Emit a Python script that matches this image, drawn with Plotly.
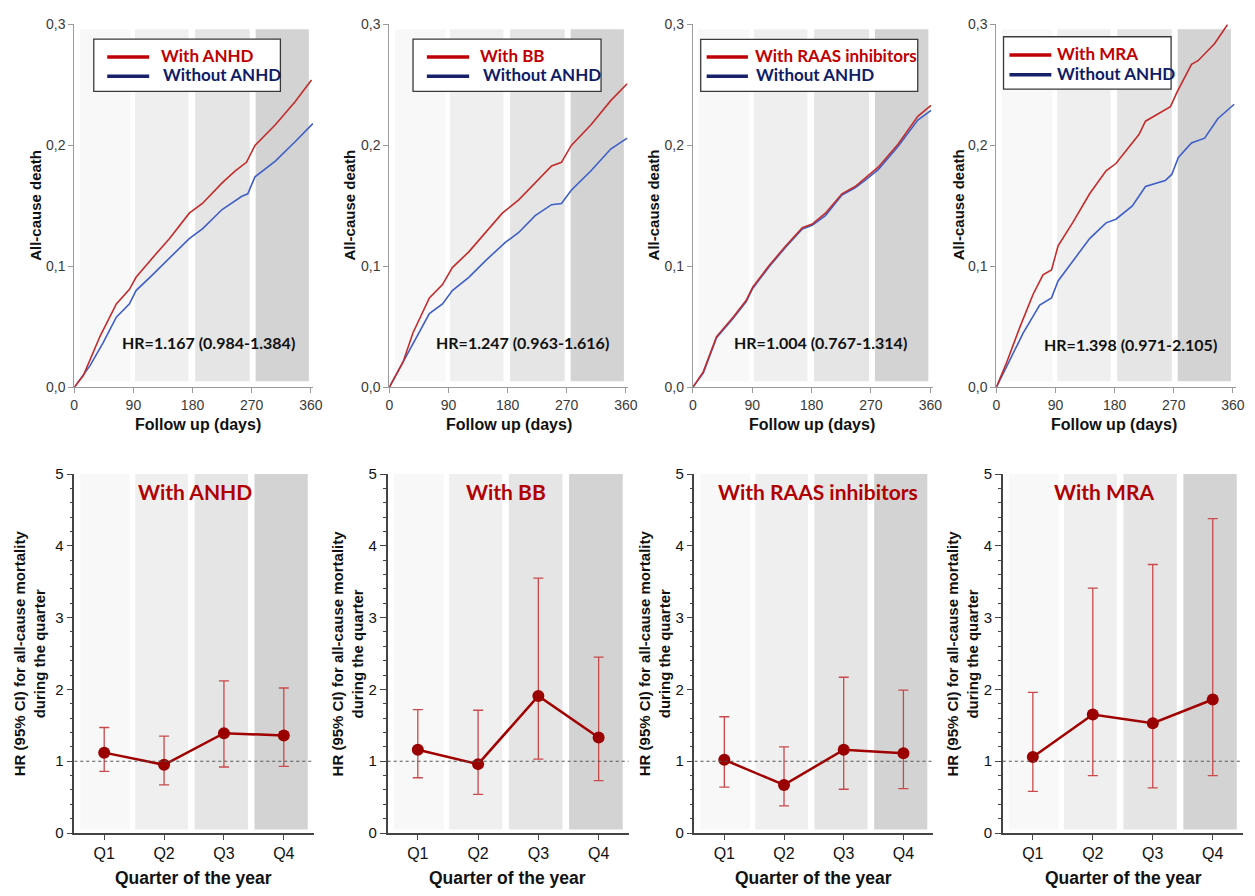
import plotly.graph_objects as go

W, H = 1255, 896

# ---------------- data ----------------
with_labels = ["With ANHD", "With BB", "With RAAS inhibitors", "With MRA"]
without_label = "Without ANHD"
hr_texts = ["HR=1.167 (0.984-1.384)", "HR=1.247 (0.963-1.616)",
            "HR=1.004 (0.767-1.314)", "HR=1.398 (0.971-2.105)"]

# Cumulative all-cause death (top row)
anhd_days_with = [0, 14, 39, 64, 84, 94, 119, 145, 175, 195, 225, 245, 262, 275, 306, 336, 361]
anhd_with = [0, 0.010, 0.042, 0.069, 0.081, 0.091, 0.107, 0.123, 0.144, 0.152, 0.169, 0.179, 0.186, 0.200, 0.217, 0.236, 0.254]
anhd_days_without = [0, 24, 44, 64, 84, 94, 119, 145, 175, 195, 225, 255, 264, 275, 306, 336, 363]
anhd_without = [0, 0.018, 0.037, 0.058, 0.069, 0.080, 0.093, 0.107, 0.123, 0.131, 0.147, 0.158, 0.160, 0.174, 0.187, 0.203, 0.218]

bb_days_with = [0, 21, 36, 61, 81, 96, 121, 147, 172, 197, 222, 247, 262, 277, 307, 337, 362]
bb_with = [0, 0.021, 0.045, 0.074, 0.085, 0.099, 0.112, 0.128, 0.144, 0.155, 0.169, 0.183, 0.186, 0.200, 0.217, 0.237, 0.251]
bb_days_without = [0, 26, 46, 61, 81, 96, 121, 147, 177, 197, 222, 247, 262, 277, 307, 337, 362]
bb_without = [0, 0.026, 0.045, 0.061, 0.069, 0.080, 0.091, 0.105, 0.120, 0.128, 0.142, 0.151, 0.152, 0.163, 0.179, 0.197, 0.206]

raas_days = [0, 16, 36, 61, 81, 91, 116, 141, 166, 181, 201, 226, 246, 261, 281, 311, 341, 361]
raas_with = [0, 0.013, 0.042, 0.058, 0.072, 0.083, 0.101, 0.117, 0.132, 0.135, 0.144, 0.160, 0.166, 0.173, 0.182, 0.201, 0.224, 0.233]
raas_without = [0, 0.012, 0.041, 0.057, 0.071, 0.082, 0.100, 0.116, 0.131, 0.134, 0.142, 0.159, 0.165, 0.171, 0.180, 0.199, 0.221, 0.229]

mra_days_with = [0, 16, 36, 56, 71, 84, 94, 116, 142, 167, 182, 197, 217, 227, 257, 265, 275, 287, 297, 307, 332, 347, 352]
mra_with = [0, 0.021, 0.050, 0.077, 0.093, 0.097, 0.117, 0.136, 0.160, 0.179, 0.185, 0.195, 0.209, 0.220, 0.229, 0.232, 0.244, 0.257, 0.267, 0.270, 0.284, 0.296, 0.300]
mra_days_without = [0, 21, 41, 66, 84, 94, 116, 142, 167, 182, 207, 227, 257, 267, 277, 297, 317, 337, 362]
mra_without = [0, 0.023, 0.045, 0.068, 0.074, 0.088, 0.104, 0.123, 0.136, 0.139, 0.150, 0.166, 0.171, 0.176, 0.190, 0.202, 0.206, 0.222, 0.234]

# Quarterly HR (bottom row)
quarters = ["Q1", "Q2", "Q3", "Q4"]
hr_anhd = [1.12, 0.95, 1.39, 1.36]
lo_anhd = [0.86, 0.67, 0.92, 0.93]
hi_anhd = [1.47, 1.35, 2.12, 2.02]

hr_bb = [1.16, 0.96, 1.91, 1.33]
lo_bb = [0.77, 0.54, 1.03, 0.73]
hi_bb = [1.72, 1.71, 3.55, 2.45]

hr_raas = [1.02, 0.67, 1.16, 1.11]
lo_raas = [0.64, 0.38, 0.61, 0.62]
hi_raas = [1.62, 1.20, 2.17, 1.99]

hr_mra = [1.06, 1.65, 1.53, 1.86]
lo_mra = [0.58, 0.80, 0.63, 0.80]
hi_mra = [1.96, 3.41, 3.74, 4.38]

# Quarter shading (days for top row, quarter units for bottom row)
band_days = [(8.6, 85.7), (92.6, 173.8), (183.9, 267), (276, 357)]
band_q = [(0.6, 1.43), (1.52, 2.4), (2.51, 3.40), (3.51, 4.40)]
band_colors = ["#f8f8f8", "#efefef", "#e5e5e5", "#d3d3d3"]

top_series = [
    (anhd_days_with, anhd_with, anhd_days_without, anhd_without),
    (bb_days_with, bb_with, bb_days_without, bb_without),
    (raas_days, raas_with, raas_days, raas_without),
    (mra_days_with, mra_with, mra_days_without, mra_without),
]
bottom_series = [
    (hr_anhd, lo_anhd, hi_anhd),
    (hr_bb, lo_bb, hi_bb),
    (hr_raas, lo_raas, hi_raas),
    (hr_mra, lo_mra, hi_mra),
]

# ---------------- layout geometry (pixels) ----------------
top_dom = [(71, 312.7), (389.3, 631), (696, 938.7), (1002.7, 1244.4)]
top_ypx = (15.7, 385.7)
bot_dom = [(71, 313), (387.7, 631.3), (697.7, 939), (1009.3, 1251.7)]
bot_ypx = (474, 840)

legend_box = [(90.7, 30.7, 279.3, 84), (413.3, 30.7, 603.3, 84),
              (704, 31, 923.3, 84), (1010, 28.3, 1179.3, 81.7)]
legend_line = [(104.3, 146.7), (427.3, 470), (710, 751.7), (1016, 1058.3)]
legend_text_x = [(156.7, 159), (479.3, 482.3), (756.7, 758.3), (1061.7, 1062)]
legend_y = [(47.5, 67), (47.5, 67), (47.5, 67), (45.5, 65.5)]
hr_pos = [(206.7, 340), (523.8, 340), (825, 340), (1137.8, 341.5)]
top_ytitle_x = [32, 349, 656, 964]
bot_ytitle_x = [26, 347.5, 657.5, 969]
bot_title_x = [193, 507.5, 822.5, 1111.7]
top_xtitle_x = [196, 510, 816, 1122]
bot_xtitle_x = [191.7, 508.3, 817.5, 1130.8]


def px(p):
    return p / W


def py(p):
    return 1 - p / H


RED_CURVE = "#c42b2b"
BLUE_CURVE = "#3f5fc8"
LEG_RED = "#c00000"
LEG_NAVY = "#17206a"
TXT_RED = "#c00000"
TXT_NAVY = "#0f1c66"
DARK_RED = "#a00000"
ERR_RED = "#c9494b"
TICK_FONT = dict(family="Liberation Sans, Arial, sans-serif", size=14, color="#3a3a3a")
CAL = "Lato, Open Sans, sans-serif"
ARIALB = "Liberation Sans, Arial, sans-serif"

fig = go.Figure()
shapes = []
annotations = []

for i in range(4):
    # ---------- top row ----------
    k = i + 1
    xa = "x" if k == 1 else f"x{k}"
    ya = "y" if k == 1 else f"y{k}"
    dw, vw, dwo, vwo = top_series[i]
    for (a, b), c in zip(band_days, band_colors):
        shapes.append(dict(type="rect", xref=xa, yref=ya, x0=a, x1=b, y0=0.005, y1=0.296,
                           fillcolor=c, line=dict(width=0), layer="below"))
    fig.add_trace(go.Scatter(x=dwo, y=vwo, mode="lines", xaxis=xa, yaxis=ya,
                             line=dict(color=BLUE_CURVE, width=1.6), showlegend=False))
    fig.add_trace(go.Scatter(x=dw, y=vw, mode="lines", xaxis=xa, yaxis=ya,
                             line=dict(color=RED_CURVE, width=1.6), showlegend=False))
    axkey = "xaxis" if k == 1 else f"xaxis{k}"
    aykey = "yaxis" if k == 1 else f"yaxis{k}"
    fig.layout[axkey] = dict(domain=[px(top_dom[i][0]), px(top_dom[i][1])], range=[0, 364],
                             anchor=ya, showline=True, linecolor="#9a9a9a", linewidth=1,
                             ticks="outside", tickcolor="#9a9a9a", ticklen=5,
                             tickvals=[0, 90, 180, 270, 360], tickfont=TICK_FONT,
                             showgrid=False, zeroline=False, fixedrange=True)
    fig.layout[aykey] = dict(domain=[py(top_ypx[1]), py(top_ypx[0])], range=[0, 0.3],
                             anchor=xa, showline=True, linecolor="#9a9a9a", linewidth=1,
                             ticks="outside", tickcolor="#9a9a9a", ticklen=5,
                             tickvals=[0, 0.1, 0.2, 0.3], ticktext=["0,0", "0,1", "0,2", "0,3"],
                             tickfont=TICK_FONT, showgrid=False, zeroline=False, fixedrange=True)

    # legend box
    x0, y0, x1, y1 = legend_box[i]
    shapes.append(dict(type="rect", xref="paper", yref="paper", x0=px(x0), x1=px(x1),
                       y0=py(y1), y1=py(y0), fillcolor="white",
                       line=dict(color="#3a3a3a", width=1.3), layer="above"))
    lx0, lx1 = legend_line[i]
    ly_r, ly_b = legend_y[i]
    shapes.append(dict(type="line", xref="paper", yref="paper", x0=px(lx0), x1=px(lx1),
                       y0=py(ly_r + 1.5), y1=py(ly_r + 1.5), line=dict(color=LEG_RED, width=3.5), layer="above"))
    shapes.append(dict(type="line", xref="paper", yref="paper", x0=px(lx0), x1=px(lx1),
                       y0=py(ly_b + 1.5), y1=py(ly_b + 1.5), line=dict(color=LEG_NAVY, width=3.5), layer="above"))
    annotations.append(dict(text=f"<b>{with_labels[i]}</b>", xref="paper", yref="paper",
                            x=px(legend_text_x[i][0]), y=py(ly_r), xanchor="left", yanchor="middle",
                            showarrow=False, font=dict(family=CAL, size=17, color=TXT_RED)))
    annotations.append(dict(text=f"<b>{without_label}</b>", xref="paper", yref="paper",
                            x=px(legend_text_x[i][1]), y=py(ly_b), xanchor="left", yanchor="middle",
                            showarrow=False, font=dict(family=CAL, size=17, color=TXT_NAVY)))
    # HR text
    annotations.append(dict(text=f"<b>{hr_texts[i]}</b>", xref="paper", yref="paper",
                            x=px(hr_pos[i][0]), y=py(hr_pos[i][1]), xanchor="center", yanchor="middle",
                            showarrow=False, font=dict(family=CAL, size=16, color="#111111")))
    # axis titles top
    annotations.append(dict(text="<b>All-cause death</b>", xref="paper", yref="paper",
                            x=px(top_ytitle_x[i]), y=py(200), textangle=-90, showarrow=False,
                            xanchor="center", yanchor="middle",
                            font=dict(family=ARIALB, size=15, color="#111111")))
    annotations.append(dict(text="<b>Follow up (days)</b>", xref="paper", yref="paper",
                            x=px(top_xtitle_x[i]), y=py(424), showarrow=False,
                            xanchor="center", yanchor="middle",
                            font=dict(family=ARIALB, size=16, color="#111111")))

    # ---------- bottom row ----------
    k = i + 5
    xa = f"x{k}"
    ya = f"y{k}"
    hr, lo, hi = bottom_series[i]
    for (a, b), c in zip(band_q, band_colors):
        shapes.append(dict(type="rect", xref=xa, yref=ya, x0=a, x1=b, y0=0.05, y1=5.0,
                           fillcolor=c, line=dict(width=0), layer="below"))
    shapes.append(dict(type="line", xref=xa, yref=ya, x0=0.5, x1=4.5, y0=1, y1=1,
                       line=dict(color="#555555", width=1.2, dash="dot"), layer="above"))
    xs = [1, 2, 3, 4]
    fig.add_trace(go.Scatter(
        x=xs, y=hr, mode="lines+markers", xaxis=xa, yaxis=ya, showlegend=False,
        line=dict(color=DARK_RED, width=2.5),
        marker=dict(color="#9a0000", size=12),
        error_y=dict(type="data", array=[h - m for h, m in zip(hi, hr)],
                     arrayminus=[m - l for m, l in zip(hr, lo)],
                     color=ERR_RED, thickness=1.3, width=5)))
    fig.layout[f"xaxis{k}"] = dict(domain=[px(bot_dom[i][0]), px(bot_dom[i][1])], range=[0.5, 4.5],
                                   anchor=ya, showline=True, linecolor="#444444", linewidth=1.5,
                                   ticks="outside", tickcolor="#444444", ticklen=5,
                                   tickvals=xs, ticktext=quarters,
                                   tickfont=dict(family="Liberation Sans, Arial, sans-serif", size=16, color="#111111"),
                                   showgrid=False, zeroline=False, fixedrange=True)
    fig.layout[f"yaxis{k}"] = dict(domain=[py(bot_ypx[1]), py(bot_ypx[0])], range=[0, 5],
                                   anchor=xa, showline=True, linecolor="#444444", linewidth=1.5,
                                   ticks="outside", tickcolor="#444444", ticklen=6,
                                   tickvals=[0, 1, 2, 3, 4, 5],
                                   minor=dict(dtick=0.2, ticks="outside", ticklen=3, tickcolor="#444444", showgrid=False),
                                   tickfont=dict(family="Liberation Sans, Arial, sans-serif", size=15, color="#111111"),
                                   showgrid=False, zeroline=False, fixedrange=True)
    annotations.append(dict(text=f"<b>{with_labels[i]}</b>", xref="paper", yref="paper",
                            x=px(bot_title_x[i]), y=py(492), showarrow=False,
                            xanchor="center", yanchor="middle",
                            font=dict(family=CAL, size=21, color="#b00000")))
    annotations.append(dict(text="<b>HR (95% CI) for all-cause mortality<br>during the quarter</b>",
                            xref="paper", yref="paper", x=px(bot_ytitle_x[i]), y=py(657),
                            textangle=-90, showarrow=False, xanchor="center", yanchor="middle",
                            font=dict(family=ARIALB, size=15, color="#111111")))
    annotations.append(dict(text="<b>Quarter of the year</b>", xref="paper", yref="paper",
                            x=px(bot_xtitle_x[i]), y=py(886), showarrow=False,
                            xanchor="center", yanchor="middle",
                            font=dict(family=ARIALB, size=17.5, color="#111111")))

fig.update_layout(width=W, height=H, margin=dict(l=0, r=0, t=0, b=0),
                  paper_bgcolor="white", plot_bgcolor="white",
                  shapes=shapes, annotations=annotations, showlegend=False)

fig.write_html("out.html", config=dict(displayModeBar=False),
               post_script="document.body.style.margin='0';document.body.style.padding='0';"
                           "document.documentElement.style.overflow='hidden';")
